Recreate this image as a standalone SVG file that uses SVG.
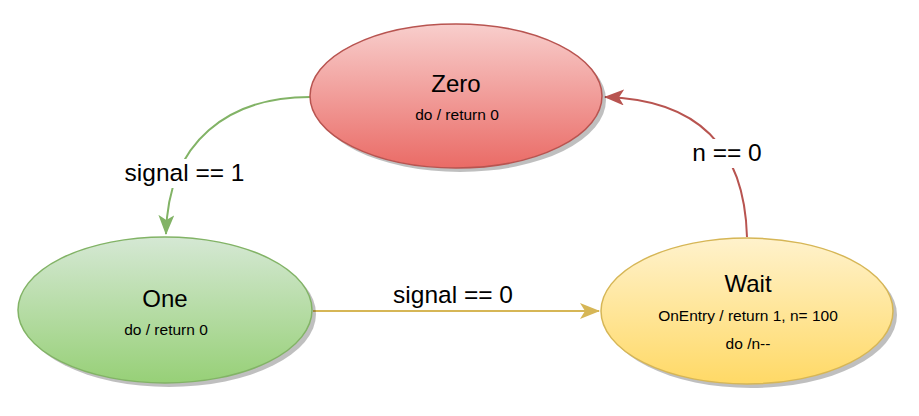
<svg xmlns="http://www.w3.org/2000/svg" width="919" height="416" viewBox="0 0 919 416">
<defs>
<linearGradient id="gRed" x1="0" y1="0" x2="0" y2="1"><stop offset="0" stop-color="#f8cecc"/><stop offset="1" stop-color="#ea6b66"/></linearGradient>
<linearGradient id="gGreen" x1="0" y1="0" x2="0" y2="1"><stop offset="0" stop-color="#d5e8d4"/><stop offset="1" stop-color="#97d077"/></linearGradient>
<linearGradient id="gYellow" x1="0" y1="0" x2="0" y2="1"><stop offset="0" stop-color="#fff2cc"/><stop offset="1" stop-color="#ffd966"/></linearGradient>
<marker id="aGreen" viewBox="0 0 20 16" refX="19" refY="8" markerWidth="20" markerHeight="16" markerUnits="userSpaceOnUse" orient="auto"><path d="M0,0 L20,8 L0,16 L5,8 Z" fill="#82b366"/></marker>
<marker id="aRed" viewBox="0 0 20 16" refX="19" refY="8" markerWidth="20" markerHeight="16" markerUnits="userSpaceOnUse" orient="auto"><path d="M0,0 L20,8 L0,16 L5,8 Z" fill="#b85450"/></marker>
<marker id="aYellow" viewBox="0 0 20 16" refX="19" refY="8" markerWidth="20" markerHeight="16" markerUnits="userSpaceOnUse" orient="auto"><path d="M0,0 L20,8 L0,16 L5,8 Z" fill="#d6b656"/></marker>
</defs>
<style>
text{font-family:"Liberation Sans",Arial,sans-serif;fill:#000;text-anchor:middle}
.t{font-size:24px}
.s{font-size:15.5px}
.lbl{font-size:24.5px}
.sh{fill:#000;opacity:0.25}
.edge{fill:none;stroke-width:2}
</style>
<rect width="919" height="416" fill="#fff"/>
<g id="connectors">
<path class="edge" d="M 310 97 C 230 97 168 140 166 234" stroke="#82b366" marker-end="url(#aGreen)"/>
<path class="edge" d="M 313 311 L 599 311" stroke="#d6b656" marker-end="url(#aYellow)"/>
<path class="edge" d="M 747 237 C 745 165 715 100 605 97" stroke="#b85450" marker-end="url(#aRed)"/>
<rect x="119" y="159" width="132" height="29" fill="#fff"/>
<text class="lbl" x="184.5" y="181">signal == 1</text>
<text class="lbl" x="453" y="303">signal == 0</text>
<rect x="689" y="139" width="76" height="29" fill="#fff"/>
<text class="lbl" x="727" y="161">n == 0</text>
</g>
<g id="zero">
<ellipse class="sh" cx="460" cy="100" rx="146" ry="72"/>
<ellipse cx="456" cy="96" rx="146" ry="72" fill="url(#gRed)" stroke="#b85450" stroke-width="1.5"/>
<text class="t" x="456" y="92">Zero</text>
<text class="s" x="457" y="120">do / return 0</text>
</g>
<g id="one">
<ellipse class="sh" cx="169" cy="314" rx="147" ry="73"/>
<ellipse cx="165" cy="310" rx="147" ry="73" fill="url(#gGreen)" stroke="#82b366" stroke-width="1.5"/>
<text class="t" x="165" y="307">One</text>
<text class="s" x="166" y="335">do / return 0</text>
</g>
<g id="wait">
<ellipse class="sh" cx="751" cy="315" rx="146" ry="73"/>
<ellipse cx="747" cy="311" rx="146" ry="73" fill="url(#gYellow)" stroke="#d6b656" stroke-width="1.5"/>
<text class="t" x="748" y="292">Wait</text>
<text class="s" x="748" y="321">OnEntry / return 1, n= 100</text>
<text class="s" x="748" y="349">do /n--</text>
</g>
</svg>
